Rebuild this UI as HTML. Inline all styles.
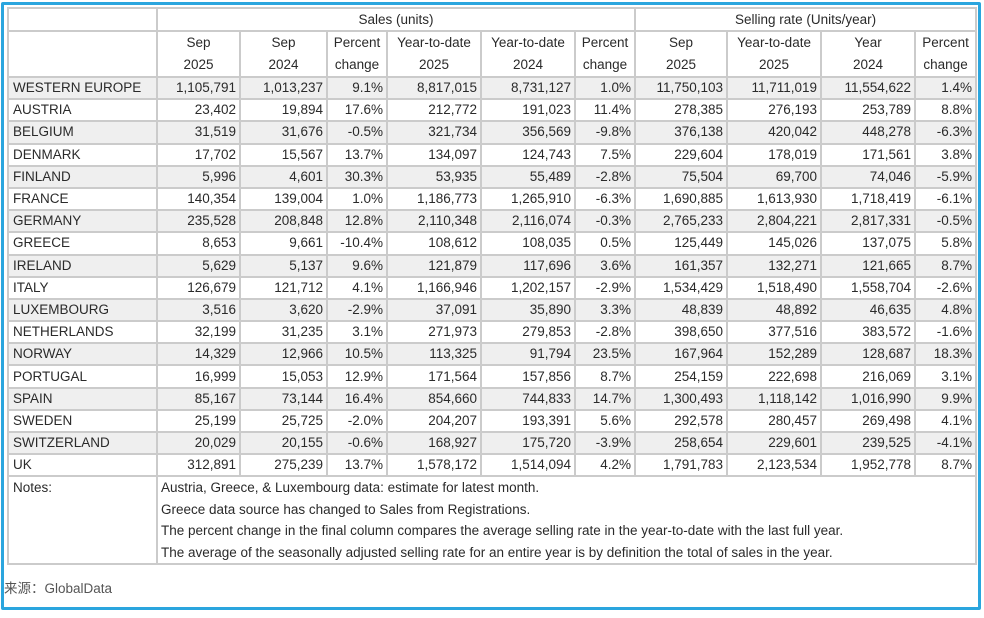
<!DOCTYPE html>
<html><head><meta charset="utf-8">
<style>
html,body{margin:0;padding:0;background:#fff;}
body{width:984px;height:618px;position:relative;overflow:hidden;font-family:"Liberation Sans","Noto Sans CJK SC",sans-serif;color:#2a2a2a;}
#frame{position:absolute;left:1px;top:2px;width:974px;height:602px;border:3px solid #2aa5de;border-radius:2px;}
table{position:absolute;left:7px;top:7px;width:968px;border-collapse:collapse;table-layout:fixed;font-size:13.5px;}
td{border:2px solid #cbcbcb;padding:0 3px;white-space:nowrap;overflow:hidden;text-align:right;line-height:20px;}
td.c{text-align:center;}
td.l{text-align:left;padding-left:4px;}
tr.h1 td{height:21px;}
tr.h2 td{height:43px;line-height:22px;}
tr.d td{height:20.2px;}
tr.g td{background:#efefef;}
tr.n td{border-top:none;border-bottom:none;height:21.5px;text-align:left;}
tr.n.first td{border-top:2px solid #cbcbcb;}
tr.n.last td{border-bottom:2px solid #cbcbcb;}
#src{position:absolute;left:4px;top:577px;font-size:13.5px;color:#555;}
</style></head>
<body>
<div id="frame"></div>
<table>
<colgroup><col style="width:149px"><col style="width:83px"><col style="width:87px"><col style="width:60px"><col style="width:94px"><col style="width:94px"><col style="width:60px"><col style="width:92px"><col style="width:94px"><col style="width:94px"><col style="width:61px"></colgroup>
<tr class="h1"><td></td><td class="c" colspan="6">Sales (units)</td><td class="c" colspan="4">Selling rate (Units/year)</td></tr>
<tr class="h2"><td></td>
<td class="c">Sep<br>2025</td><td class="c">Sep<br>2024</td><td class="c">Percent<br>change</td><td class="c">Year-to-date<br>2025</td><td class="c">Year-to-date<br>2024</td><td class="c">Percent<br>change</td><td class="c">Sep<br>2025</td><td class="c">Year-to-date<br>2025</td><td class="c">Year<br>2024</td><td class="c">Percent<br>change</td></tr>
<tbody id="body"></tbody>
<tr class="n first"><td class="l">Notes:</td><td colspan="10" style="padding-left:3px">Austria, Greece, &amp; Luxembourg data: estimate for latest month.</td></tr>
<tr class="n"><td></td><td colspan="10" style="padding-left:3px">Greece data source has changed to Sales from Registrations.</td></tr>
<tr class="n"><td></td><td colspan="10" style="padding-left:3px">The percent change in the final column compares the average selling rate in the year-to-date with the last full year.</td></tr>
<tr class="n last"><td></td><td colspan="10" style="padding-left:3px">The average of the seasonally adjusted selling rate for an entire year is by definition the total of sales in the year.</td></tr>
</table>
<div id="src">来源：GlobalData</div>
<script>
const rows=[
["WESTERN EUROPE","1,105,791","1,013,237","9.1%","8,817,015","8,731,127","1.0%","11,750,103","11,711,019","11,554,622","1.4%"],
["AUSTRIA","23,402","19,894","17.6%","212,772","191,023","11.4%","278,385","276,193","253,789","8.8%"],
["BELGIUM","31,519","31,676","-0.5%","321,734","356,569","-9.8%","376,138","420,042","448,278","-6.3%"],
["DENMARK","17,702","15,567","13.7%","134,097","124,743","7.5%","229,604","178,019","171,561","3.8%"],
["FINLAND","5,996","4,601","30.3%","53,935","55,489","-2.8%","75,504","69,700","74,046","-5.9%"],
["FRANCE","140,354","139,004","1.0%","1,186,773","1,265,910","-6.3%","1,690,885","1,613,930","1,718,419","-6.1%"],
["GERMANY","235,528","208,848","12.8%","2,110,348","2,116,074","-0.3%","2,765,233","2,804,221","2,817,331","-0.5%"],
["GREECE","8,653","9,661","-10.4%","108,612","108,035","0.5%","125,449","145,026","137,075","5.8%"],
["IRELAND","5,629","5,137","9.6%","121,879","117,696","3.6%","161,357","132,271","121,665","8.7%"],
["ITALY","126,679","121,712","4.1%","1,166,946","1,202,157","-2.9%","1,534,429","1,518,490","1,558,704","-2.6%"],
["LUXEMBOURG","3,516","3,620","-2.9%","37,091","35,890","3.3%","48,839","48,892","46,635","4.8%"],
["NETHERLANDS","32,199","31,235","3.1%","271,973","279,853","-2.8%","398,650","377,516","383,572","-1.6%"],
["NORWAY","14,329","12,966","10.5%","113,325","91,794","23.5%","167,964","152,289","128,687","18.3%"],
["PORTUGAL","16,999","15,053","12.9%","171,564","157,856","8.7%","254,159","222,698","216,069","3.1%"],
["SPAIN","85,167","73,144","16.4%","854,660","744,833","14.7%","1,300,493","1,118,142","1,016,990","9.9%"],
["SWEDEN","25,199","25,725","-2.0%","204,207","193,391","5.6%","292,578","280,457","269,498","4.1%"],
["SWITZERLAND","20,029","20,155","-0.6%","168,927","175,720","-3.9%","258,654","229,601","239,525","-4.1%"],
["UK","312,891","275,239","13.7%","1,578,172","1,514,094","4.2%","1,791,783","2,123,534","1,952,778","8.7%"]
];
const tb=document.getElementById('body');
rows.forEach((r,i)=>{
  const tr=document.createElement('tr');
  tr.className='d'+(i%2===0?' g':'');
  
  
  r.forEach((v,j)=>{
    const td=document.createElement('td');
    if(j===0)td.className='l';
    td.textContent=v;
    tr.appendChild(td);
  });
  tb.appendChild(tr);
});
</script>
</body></html>
